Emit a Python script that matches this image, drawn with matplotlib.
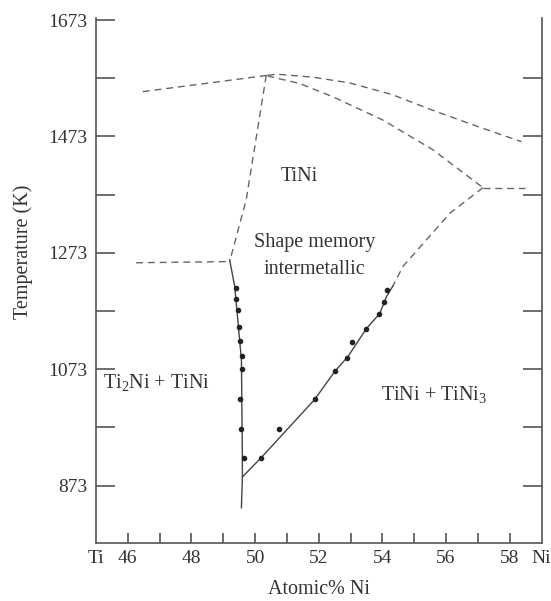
import numpy as np
import matplotlib
matplotlib.use("Agg")
import matplotlib.pyplot as plt

plt.rcParams['font.family'] = ['Liberation Serif', 'DejaVu Serif']
plt.rcParams['mathtext.fontset'] = 'custom'
plt.rcParams['mathtext.rm'] = 'Liberation Serif'

# --- phase boundaries (atomic % Ni, K) ---
liq_left_x = [46.47, 50.39]
liq_left_y = [1550, 1578]
liq_right_x = [50.39, 50.67, 51.8, 52.97, 54.3, 55.58, 57.0, 58.37]
liq_right_y = [1578, 1580, 1575, 1565, 1545, 1518, 1490, 1464]
sol_right_x = [50.39, 50.46, 51.4, 52.45, 54.02, 55.59, 57.16]
sol_right_y = [1578, 1576, 1564, 1541, 1501, 1450, 1385]
sol_left_x = [50.35, 49.72, 49.2]
sol_left_y = [1578, 1364, 1258]
eut_right_x = [57.16, 58.47]
eut_right_y = [1385, 1385]
eut_left_x = [46.26, 49.2]
eut_left_y = [1256, 1258]
tini3_x = [57.16, 56.12, 54.65, 54.33]
tini3_y = [1385, 1341, 1250, 1216]

# solid solvus lines
solv_left_x = [49.2, 49.36, 49.57, 49.6, 49.6, 49.57]
solv_left_y = [1261, 1215, 1089, 923, 888, 835]
solv_right_x = [49.6, 50.19, 51.87, 52.5, 52.92, 53.5, 53.92, 54.13, 54.33]
solv_right_y = [888, 921, 1021, 1069, 1095, 1143, 1169, 1198, 1216]

# measured points
pts_left_x = [49.39, 49.41, 49.46, 49.49, 49.51, 49.58, 49.58, 49.53, 49.57, 49.65]
pts_left_y = [1213, 1193, 1175, 1146, 1121, 1096, 1073, 1022, 971, 921]
pts_right_x = [50.19, 50.75, 51.89, 52.5, 52.9, 53.06, 53.47, 53.89, 54.05, 54.13]
pts_right_y = [921, 970, 1022, 1070, 1093, 1119, 1142, 1168, 1188, 1209]

y_major = [873, 1073, 1273, 1473, 1673]
y_minor = [973, 1173, 1373, 1573]
x_labels = ['Ti', '46', '48', '50', '52', '54', '56', '58', 'Ni']
x_label_pos = [45, 46, 48, 50, 52, 54, 56, 58, 59]

fig = plt.figure(figsize=(5.51, 6.01), dpi=100)
ax = fig.add_axes([96 / 551, 58.3 / 601, 445.5 / 551, 524.4 / 601])

txt = '#333333'
line = '#555555'
fs = 14.5
dash = dict(color='#666666', lw=1.0, ls=(0, (5, 3.5)))

for xs, ys in [(liq_left_x, liq_left_y), (liq_right_x, liq_right_y),
               (sol_right_x, sol_right_y), (sol_left_x, sol_left_y),
               (eut_right_x, eut_right_y), (eut_left_x, eut_left_y),
               (tini3_x, tini3_y)]:
    ax.plot(xs, ys, **dash)

ax.plot(solv_left_x, solv_left_y, color='#444444', lw=1.0)
ax.plot(solv_right_x, solv_right_y, color='#444444', lw=1.0)
ax.plot(pts_left_x, pts_left_y, 'o', color='#222222', ms=3)
ax.plot(pts_right_x, pts_right_y, 'o', color='#222222', ms=3)

ax.set_xlim(45, 59)
ax.set_ylim(775, 1676)

ax.spines['top'].set_visible(False)
for s in ['left', 'right', 'bottom']:
    ax.spines[s].set_color(line)
    ax.spines[s].set_linewidth(1.2)

ax.set_yticks(y_major)
ax.set_yticklabels([str(v) for v in y_major])
ax.set_yticks(y_minor, minor=True)
ax.tick_params(axis='y', which='both', direction='in', length=14, width=1.2,
               color=line, labelsize=14, labelcolor=txt, pad=6, right=True)
for t in ax.yaxis.get_major_ticks():
    if t.get_loc() == 1673:
        t.tick2line.set_visible(False)
ax.set_xticks(x_label_pos)
ax.set_xticklabels(x_labels)
ax.set_xticks(np.arange(47, 58, 2), minor=True)
ax.tick_params(axis='x', which='both', direction='in', length=7, width=1.2,
               color=line, labelsize=14, labelcolor=txt, pad=5)
for t in ax.xaxis.get_major_ticks():
    if t.get_loc() in (45, 59):
        t.tick1line.set_visible(False)

ax.set_xlabel('Atomic% Ni', fontsize=fs, color=txt)
ax.xaxis.set_label_coords(0.5, -0.072)
ax.set_ylabel('Temperature (K)', fontsize=fs, color=txt)
ax.yaxis.set_label_coords(-0.141, 0.555)

ax.text(51.4, 1404, 'TiNi', fontsize=fs, color=txt, ha='center', va='center')
ax.text(51.87, 1290, 'Shape memory', fontsize=fs, color=txt, ha='center', va='center')
ax.text(51.87, 1245, 'intermetallic', fontsize=fs, color=txt, ha='center', va='center')
ax.text(45.21, 1049, r'Ti$_2$Ni + TiNi', fontsize=fs, color=txt, ha='left', va='center')
ax.text(53.97, 1029, r'TiNi + TiNi$_3$', fontsize=fs, color=txt, ha='left', va='center')

fig.savefig('out.png', dpi=100)
